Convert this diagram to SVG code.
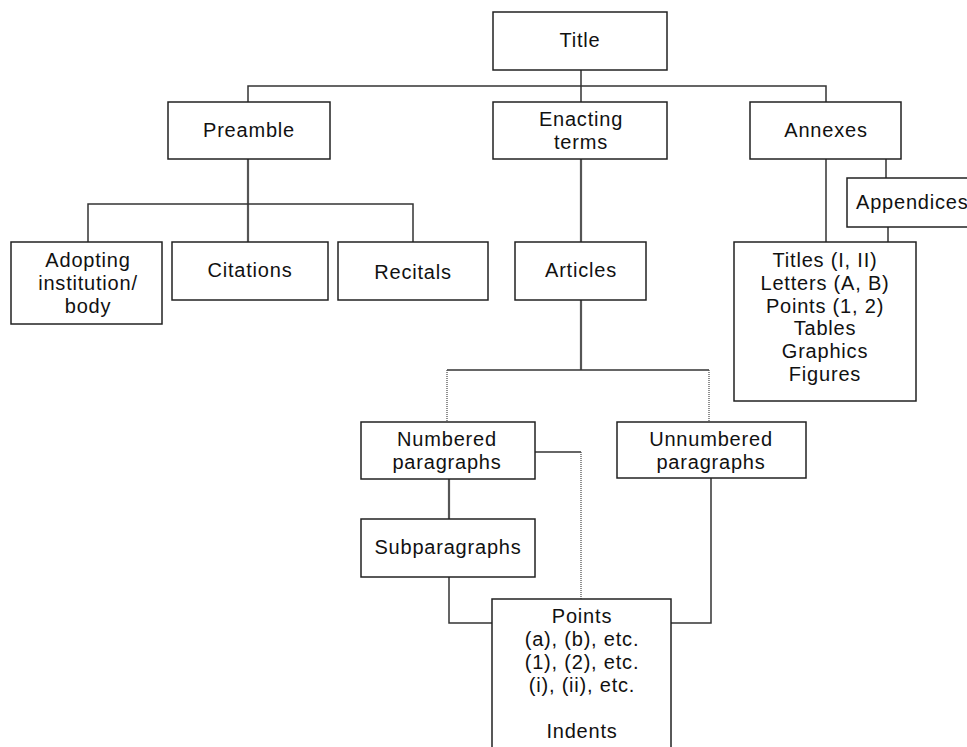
<svg xmlns="http://www.w3.org/2000/svg" width="967" height="747" viewBox="0 0 967 747">
<style>
.box{fill:#fff;stroke:#222;stroke-width:1.5}
.t{font-family:"Liberation Sans",Arial,sans-serif;font-size:20px;letter-spacing:0.8px;fill:#111;text-anchor:middle}
.c{fill:none;stroke:#333;stroke-width:1.5}
.ct{fill:none;stroke:#555;stroke-width:2.2}
.cd{fill:none;stroke:#555;stroke-width:1.3;stroke-dasharray:1 1}
</style>
<rect width="967" height="747" fill="#fff"/>
<g id="connectors">
<path class="c" d="M581 70V102M248 102V86H826V102"/>
<path class="ct" d="M248 159V242"/>
<path class="c" d="M88 242V204H413V242"/>
<path class="ct" d="M581 159V242M581 300V370"/>
<path class="c" d="M447 370H709"/>
<path class="cd" d="M447 370V422M709 370V422"/>
<path class="c" d="M826 159V242M886 159V178M888 227V242"/>
<path class="c" d="M535 452H581"/>
<path class="cd" d="M581 452V599"/>
<path class="ct" d="M449 479V519"/>
<path class="c" d="M449 577V623H493"/>
<path class="c" d="M711 478V623H671"/>
</g>
<g id="title"><rect class="box" x="493" y="12" width="174" height="58"/><text class="t" x="580" y="47">Title</text></g>
<g id="preamble"><rect class="box" x="168" y="102" width="162" height="57"/><text class="t" x="249" y="137">Preamble</text></g>
<g id="enacting"><rect class="box" x="493" y="102" width="174" height="57"/><text class="t" x="581" y="126">Enacting</text><text class="t" x="581" y="149">terms</text></g>
<g id="annexes"><rect class="box" x="750" y="102" width="151" height="57"/><text class="t" x="826" y="137">Annexes</text></g>
<g id="appendices"><rect class="box" x="847" y="178" width="140" height="49"/><text class="t" x="856" y="209" style="text-anchor:start">Appendices</text></g>
<g id="adopting"><rect class="box" x="11" y="242" width="151" height="82"/><text class="t" x="88" y="267">Adopting</text><text class="t" x="88" y="290">institution/</text><text class="t" x="88" y="313">body</text></g>
<g id="citations"><rect class="box" x="172" y="242" width="156" height="58"/><text class="t" x="250" y="277">Citations</text></g>
<g id="recitals"><rect class="box" x="338" y="242" width="150" height="58"/><text class="t" x="413" y="279">Recitals</text></g>
<g id="articles"><rect class="box" x="515" y="242" width="131" height="58"/><text class="t" x="581" y="277">Articles</text></g>
<g id="annex-contents"><rect class="box" x="734" y="242" width="182" height="159"/>
<text class="t" x="825" y="267">Titles (I, II)</text><text class="t" x="825" y="290">Letters (A, B)</text><text class="t" x="825" y="313">Points (1, 2)</text><text class="t" x="825" y="335">Tables</text><text class="t" x="825" y="358">Graphics</text><text class="t" x="825" y="381">Figures</text></g>
<g id="numbered"><rect class="box" x="361" y="422" width="174" height="57"/><text class="t" x="447" y="446">Numbered</text><text class="t" x="447" y="469">paragraphs</text></g>
<g id="unnumbered"><rect class="box" x="617" y="422" width="189" height="56"/><text class="t" x="711" y="446">Unnumbered</text><text class="t" x="711" y="469">paragraphs</text></g>
<g id="subparagraphs"><rect class="box" x="361" y="519" width="174" height="58"/><text class="t" x="448" y="554">Subparagraphs</text></g>
<g id="points"><rect class="box" x="492" y="599" width="179" height="160"/>
<text class="t" x="582" y="623">Points</text><text class="t" x="582" y="646">(a), (b), etc.</text><text class="t" x="582" y="669">(1), (2), etc.</text><text class="t" x="582" y="692">(i), (ii), etc.</text><text class="t" x="582" y="738">Indents</text></g>
</svg>
